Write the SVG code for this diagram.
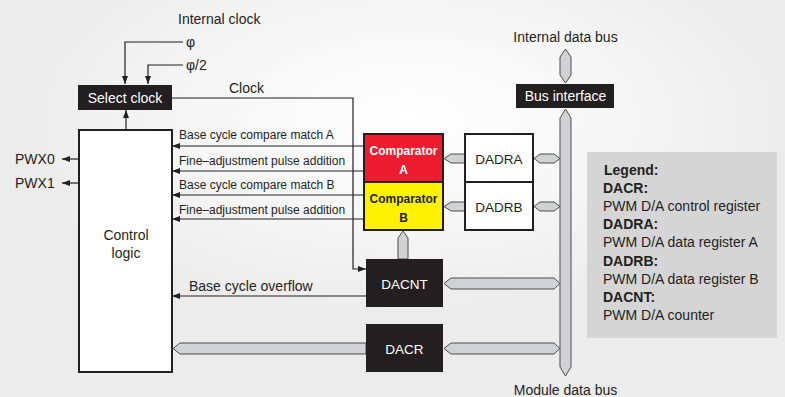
<svg xmlns="http://www.w3.org/2000/svg" width="785" height="397" viewBox="0 0 785 397">
<defs>
<radialGradient id="glow" cx="0.52" cy="0.3" r="0.5" gradientUnits="objectBoundingBox">
<stop offset="0" stop-color="#ffffff"/>
<stop offset="0.6" stop-color="#f5f5f5"/>
<stop offset="1" stop-color="#ececec"/>
</radialGradient>
<marker id="ah" viewBox="0 0 8 6" refX="8" refY="3" markerWidth="8" markerHeight="6" markerUnits="userSpaceOnUse" orient="auto">
<path d="M0,0 L8,3 L0,6 z" fill="#231f20"/>
</marker>
</defs>
<style>
text{font-family:"Liberation Sans",Arial,sans-serif;fill:#231f20}
.s12{font-size:12px}
.s14{font-size:14px}
.w{fill:#ffffff}
.b{font-weight:bold}
.wire{fill:none;stroke:#231f20;stroke-width:1.2}
.bus{fill:#d1d2d4;stroke:#4d4d4f;stroke-width:1}
.blk{fill:#231f20}
.reg{fill:#ffffff;stroke:#231f20;stroke-width:2}
</style>
<rect x="0" y="0" width="785" height="397" fill="url(#glow)"/>

<g id="connectors">
<path class="wire" d="M183,42 H125 V84" marker-end="url(#ah)"/>
<path class="wire" d="M183,65 H148 V84" marker-end="url(#ah)"/>
<path class="wire" d="M126,130 V110" marker-end="url(#ah)"/>
<path class="wire" d="M172,98 H353 V269 H366" marker-end="url(#ah)"/>
<path class="wire" d="M79,159 H62" marker-end="url(#ah)"/>
<path class="wire" d="M79,183 H62" marker-end="url(#ah)"/>
<path class="wire" d="M364,146 H172" marker-end="url(#ah)"/>
<path class="wire" d="M364,171 H172" marker-end="url(#ah)"/>
<path class="wire" d="M364,195 H172" marker-end="url(#ah)"/>
<path class="wire" d="M364,219 H172" marker-end="url(#ah)"/>
<path class="wire" d="M366,296 H172" marker-end="url(#ah)"/>
<polygon class="bus" points="565.5,49 571,57 571,75 565.5,83 560,75 560,57"/>
<polygon class="bus" points="565.5,109 571,118 571,367 565.5,376 560,367 560,118"/>
<polygon class="bus" points="444,158.5 451,154 465,154 465,163 451,163"/>
<polygon class="bus" points="534,158.5 540,154 554,154 560,158.5 554,163 540,163"/>
<polygon class="bus" points="444,206.5 451,202 465,202 465,211 451,211"/>
<polygon class="bus" points="534,206.5 540,202 554,202 560,206.5 554,211 540,211"/>
<polygon class="bus" points="403,231 408,238 408,259 398,259 398,238"/>
<polygon class="bus" points="444,283.5 451,278 554,278 560,283.5 554,289 451,289"/>
<polygon class="bus" points="444,348.5 451,343 554,343 560,348.5 554,354 451,354"/>
<polygon class="bus" points="173,348.5 180,343 366,343 366,354 180,354"/>
<text class="s12" x="179" y="139">Base cycle compare match A</text>
<text class="s12" x="179" y="165">Fine–adjustment pulse addition</text>
<text class="s12" x="179" y="189">Base cycle compare match B</text>
<text class="s12" x="179" y="214">Fine–adjustment pulse addition</text>
<text class="s14" x="189" y="291">Base cycle overflow</text>
<text class="s14" x="229" y="93">Clock</text>
</g>

<g id="labels">
<text class="s14" x="178" y="24">Internal clock</text>
<text class="s14" x="186" y="47">φ</text>
<text class="s14" x="186" y="70">φ/2</text>
<text class="s14" x="565.5" y="42" text-anchor="middle">Internal data bus</text>
<text class="s14" x="565.5" y="395" text-anchor="middle">Module data bus</text>
<text class="s14" x="15" y="164">PWX0</text>
<text class="s14" x="15" y="188">PWX1</text>
</g>

<g id="select-clock">
<rect class="blk" x="78" y="85" width="94" height="25"/>
<text class="s14 w" x="125" y="102.5" text-anchor="middle">Select clock</text>
</g>

<g id="control-logic">
<rect class="reg" x="79" y="130" width="93" height="242"/>
<text class="s14" x="126" y="240" text-anchor="middle">Control</text>
<text class="s14" x="126" y="258" text-anchor="middle">logic</text>
</g>

<g id="comparator-a">
<rect x="364" y="134" width="79" height="48" fill="#ed1c2e" stroke="#231f20" stroke-width="2"/>
<text class="s12 b w" x="403.5" y="155" text-anchor="middle">Comparator</text>
<text class="s12 b w" x="403.5" y="174" text-anchor="middle">A</text>
</g>

<g id="comparator-b">
<rect x="364" y="182" width="79" height="48" fill="#fff200" stroke="#231f20" stroke-width="2"/>
<text class="s12 b" x="403.5" y="203" text-anchor="middle">Comparator</text>
<text class="s12 b" x="403.5" y="222" text-anchor="middle">B</text>
</g>

<g id="dadra">
<rect class="reg" x="465" y="134" width="68" height="48"/>
<text class="s14" x="499" y="163.5" text-anchor="middle" style="font-size:13.5px">DADRA</text>
</g>

<g id="dadrb">
<rect class="reg" x="465" y="182" width="68" height="48"/>
<text class="s14" x="499" y="211.5" text-anchor="middle" style="font-size:13.5px">DADRB</text>
</g>

<g id="dacnt">
<rect class="blk" x="366" y="259" width="77" height="48"/>
<text class="s14 w" x="404.5" y="288.5" text-anchor="middle" style="font-size:13.5px">DACNT</text>
</g>

<g id="dacr">
<rect class="blk" x="366" y="324" width="77" height="48"/>
<text class="s14 w" x="404.5" y="353.5" text-anchor="middle" style="font-size:13.5px">DACR</text>
</g>

<g id="bus-interface">
<rect class="blk" x="516" y="84" width="98" height="24"/>
<text class="s14 w" x="565.5" y="101" text-anchor="middle">Bus interface</text>
</g>

<g id="legend">
<rect x="587" y="152" width="190" height="186" fill="#d5d5d6"/>
<text class="s14 b" x="604" y="175">Legend:</text>
<text class="s14 b" x="603" y="193">DACR:</text>
<text class="s14" x="603" y="211">PWM D/A control register</text>
<text class="s14 b" x="603" y="229">DADRA:</text>
<text class="s14" x="603" y="247">PWM D/A data register A</text>
<text class="s14 b" x="603" y="266">DADRB:</text>
<text class="s14" x="603" y="284">PWM D/A data register B</text>
<text class="s14 b" x="603" y="302">DACNT:</text>
<text class="s14" x="603" y="320">PWM D/A counter</text>
</g>
</svg>
